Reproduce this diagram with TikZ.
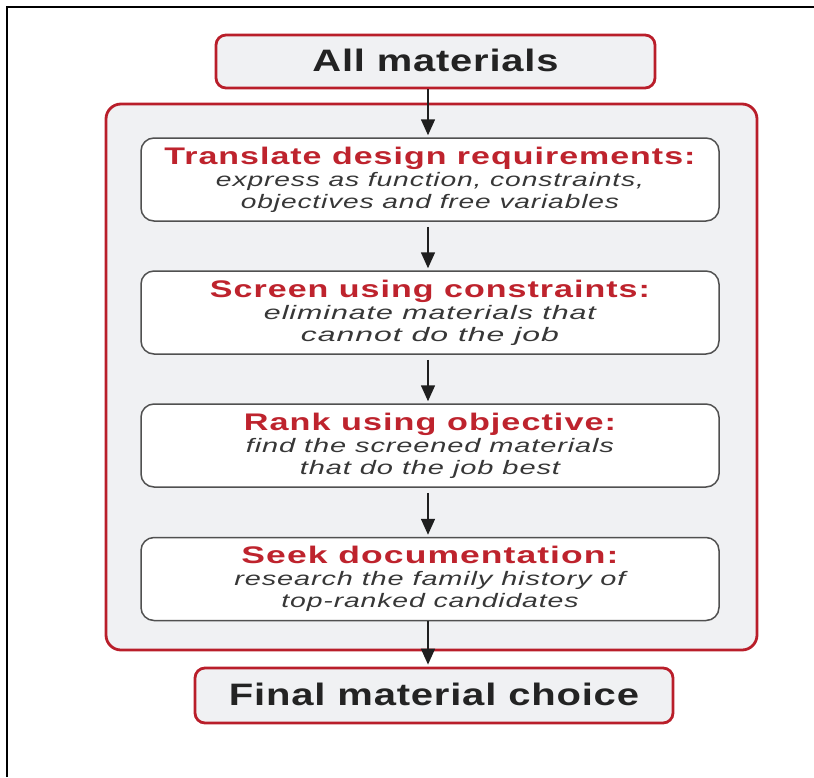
\documentclass[tikz,border=0pt]{standalone}
\usepackage{fontspec}
\setmainfont{Liberation Sans}
\usepackage{graphicx}
\usetikzlibrary{arrows.meta}

\definecolor{boxred}{RGB}{185,30,42}
\definecolor{headred}{RGB}{190,35,45}
\definecolor{panelgray}{RGB}{240,241,243}
\definecolor{edgegray}{RGB}{80,80,80}
\definecolor{notegray}{RGB}{55,55,55}
\definecolor{titleblack}{RGB}{35,35,35}

% stretch a line of text to a given width (in pt) while keeping its height
\newcommand\fitline[2]{\resizebox{#1pt}{\height}{#2}}
\newcommand\headfont{\fontsize{24}{27}\selectfont\bfseries\color{headred}\addfontfeature{LetterSpace=3}}
\newcommand\notefont{\fontsize{19.5}{22}\selectfont\itshape\color{notegray}\addfontfeature{LetterSpace=3}}
\newcommand\titlefont{\fontsize{31}{34}\selectfont\bfseries\color{titleblack}\addfontfeature{LetterSpace=2}}

\tikzset{
  x=1pt, y=-1pt,
  redbox/.style={draw=boxred, line width=2.8pt, fill=panelgray, rounded corners=10pt,
    inner sep=0pt, align=center},
  stepbox/.style={draw=edgegray, line width=1.5pt, fill=white, rounded corners=13pt,
    minimum width=578pt, minimum height=83pt, inner sep=0pt, align=center,
    font=\fontsize{19.5}{22}\selectfont},
  flow/.style={line width=1.6pt, draw=black!88, -{Triangle[width=14pt,length=16pt]}, shorten >=2pt}
}

\begin{document}
\begin{tikzpicture}
  \useasboundingbox (0,0) rectangle (814,777);

  % page frame along the top and left edges
  \draw[line width=2.2pt, black] (7,777) -- (7,7) -- (814,7);

  % outer panel holding the four steps
  \node[redbox, rounded corners=15pt, minimum width=651pt, minimum height=546pt] (panel) at (431.5,377) {};

  \node[redbox, minimum width=439pt, minimum height=53pt] (allm) at (435.5,61.5)
    {\titlefont\raisebox{2pt}{\fitline{246}{All materials}}};

  \node[stepbox] (s1) at (430,179.5)
    {\fitline{531}{\headfont Translate design requirements:}\\[0pt]
     \fitline{428}{\notefont express as function, constraints,}\\
     \fitline{378}{\notefont objectives and free variables}};

  \node[stepbox] (s2) at (430,312.5)
    {\fitline{440}{\headfont Screen using constraints:}\\[0pt]
     \fitline{332}{\notefont eliminate materials that}\\
     \fitline{258}{\notefont cannot do the job}};

  \node[stepbox] (s3) at (430,445.5)
    {\fitline{372}{\headfont Rank using objective:}\\[0pt]
     \fitline{368}{\notefont find the screened materials}\\
     \fitline{260}{\notefont that do the job best}};

  \node[stepbox] (s4) at (430,579)
    {\fitline{377}{\headfont Seek documentation:}\\[0pt]
     \fitline{391}{\notefont research the family history of}\\
     \fitline{297}{\notefont top-ranked candidates}};

  \node[redbox, minimum width=478pt, minimum height=55pt] (final) at (434,695.5)
    {\titlefont\raisebox{2pt}{\fitline{410}{Final material choice}}};

  % vertical flow of the arrows
  \coordinate (ax) at (428,0);
  \draw[flow] (allm.south -| ax) -- (s1.north -| ax);
  \draw[flow] (s1.south -| ax) ++(0,5) -- (s2.north -| ax);
  \draw[flow] (s2.south -| ax) ++(0,5) -- (s3.north -| ax);
  \draw[flow] (s3.south -| ax) ++(0,5) -- (s4.north -| ax);
  \draw[flow] (s4.south -| ax) -- (final.north -| ax);
\end{tikzpicture}
\end{document}
